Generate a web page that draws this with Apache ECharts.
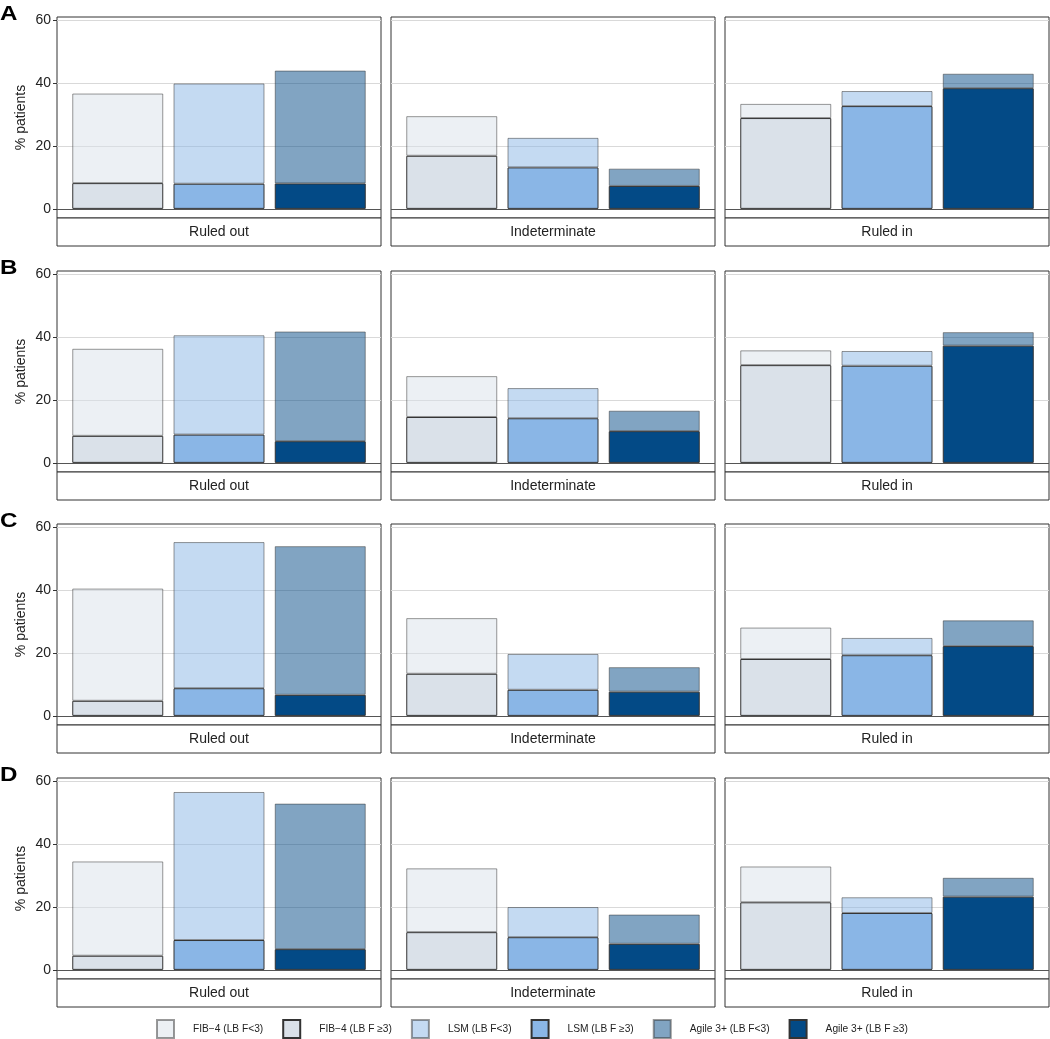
<!DOCTYPE html>
<html>
<head>
<meta charset="utf-8">
<script src="https://cdn.jsdelivr.net/npm/echarts@6/dist/echarts.min.js"></script>
<style>
html,body{margin:0;padding:0;background:#fff;}
#chart{width:1050px;height:1039px;}
</style>
</head>
<body>
<div id="chart"></div>
<script>
// ---- DATA ----
const rowLabels = ['A', 'B', 'C', 'D'];
const categories = ['Ruled out', 'Indeterminate', 'Ruled in'];
const methods = ['FIB\u22124', 'LSM', 'Agile 3+'];
const yTicks = [0, 20, 40, 60];

// values[category][method], % patients with LB F>=3 (lower segment)
const f3_A = [[8.2, 8.0, 8.1], [16.9, 13.2, 7.3], [28.9, 32.7, 38.4]];
const f3_B = [[8.6, 9.0, 6.9], [14.6, 14.2, 10.1], [31.1, 30.9, 37.3]];
const f3_C = [[4.8, 8.8, 6.7], [13.4, 8.3, 7.7], [18.1, 19.3, 22.2]];
const f3_D = [[4.5, 9.5, 6.6], [12.0, 10.4, 8.3], [21.5, 18.1, 23.3]];
// values[category][method], % patients with LB F<3 (upper segment)
const lt3_A = [[28.5, 31.9, 35.9], [12.6, 9.4, 5.5], [4.5, 4.8, 4.6]];
const lt3_B = [[27.7, 31.6, 34.9], [13.0, 9.6, 6.5], [4.7, 4.7, 4.3]];
const lt3_C = [[35.7, 46.5, 47.3], [17.7, 11.4, 7.8], [10.0, 5.5, 8.2]];
const lt3_D = [[30.0, 47.1, 46.3], [20.3, 9.6, 9.3], [11.4, 5.0, 6.0]];

const f3Rows = [f3_A, f3_B, f3_C, f3_D];
const lt3Rows = [lt3_A, lt3_B, lt3_C, lt3_D];

// ---- STYLE / LAYOUT ----
const baseColors = ['#dae1e9', '#8ab6e6', '#034a86'];
const fadedColors = ['rgba(218,225,233,0.5)', 'rgba(138,182,230,0.5)', 'rgba(3,74,134,0.5)'];
const FONT = 'Liberation Sans, Arial, Helvetica, sans-serif';
const colLeft = [57, 391, 725];
const panelW = 324;
const plotH = 201;
const stripH = 28;
const rowTop = r => Math.round(17 + r * 253.7);

const grids = [], xAxes = [], yAxes = [], series = [], graphics = [];

rowLabels.forEach((lab, r) => {
  const top = rowTop(r);
  graphics.push({
    type: 'text', x: 0, y: top - 13, scaleX: 1.15,
    style: { text: lab, font: 'bold 21px ' + FONT, fill: '#000', verticalAlign: 'top' }
  });
  categories.forEach((cat, c) => {
    const gi = r * 3 + c;
    grids.push({
      left: colLeft[c], top: top, width: panelW, height: plotH,
      show: true, borderColor: '#333', borderWidth: 1, backgroundColor: '#fff'
    });
    xAxes.push({
      gridIndex: gi, type: 'value', min: 0.4, max: 3.6, show: false
    });
    yAxes.push({
      gridIndex: gi, type: 'value', min: -2.9, max: 61.05,
      axisLine: { show: false },
      axisTick: { show: c === 0, length: 4, lineStyle: { color: '#333' }, customValues: yTicks },
      axisLabel: { show: c === 0, customValues: yTicks, fontSize: 14, color: '#222', fontFamily: FONT, margin: 6 },
      splitLine: { show: true, lineStyle: { color: ['#555', '#d9d9d9', '#d9d9d9', '#d9d9d9'], width: 1 } },
      name: c === 0 ? '% patients' : '',
      nameLocation: 'middle', nameGap: 29, nameRotate: 90,
      nameTextStyle: { fontSize: 14, color: '#222', fontFamily: FONT }
    });
    graphics.push({
      type: 'rect',
      shape: { x: colLeft[c], y: top + plotH, width: panelW, height: stripH },
      style: { fill: '#fff', stroke: '#333', lineWidth: 1 }
    });
    graphics.push({
      type: 'text',
      x: colLeft[c] + panelW / 2, y: top + plotH + stripH / 2,
      style: { text: cat, font: '14px ' + FONT, fill: '#222', align: 'center', verticalAlign: 'middle' }
    });
    methods.forEach((m, k) => {
      const stack = 'g' + gi + 'm' + k;
      // data items are [value, position] so that the value dimension is the stacked one
      series.push({
        type: 'bar', name: m + ' (LB F \u22653)',
        xAxisIndex: gi, yAxisIndex: gi, stack: stack,
        dimensions: ['pct', 'pos'], encode: { x: 'pos', y: 'pct' },
        data: [[f3Rows[r][c][k], k + 1]],
        barWidth: 91, barGap: '-100%', z: 3,
        itemStyle: { color: baseColors[k], borderColor: '#333', borderWidth: 1 },
        emphasis: { disabled: true }
      });
      series.push({
        type: 'bar', name: m + ' (LB F<3)',
        xAxisIndex: gi, yAxisIndex: gi, stack: stack,
        dimensions: ['pct', 'pos'], encode: { x: 'pos', y: 'pct' },
        data: [[lt3Rows[r][c][k], k + 1]],
        barWidth: 91, barGap: '-100%', z: 2,
        itemStyle: { color: fadedColors[k], borderColor: 'rgba(51,51,51,0.5)', borderWidth: 1 },
        emphasis: { disabled: true }
      });
    });
  });
});

const legendNames = [];
methods.forEach(m => { legendNames.push(m + ' (LB F<3)'); legendNames.push(m + ' (LB F \u22653)'); });

const chart = echarts.init(document.getElementById('chart'), null, { renderer: 'canvas' });
chart.setOption({
  animation: false,
  backgroundColor: '#fff',
  textStyle: { fontFamily: FONT },
  grid: grids,
  xAxis: xAxes,
  yAxis: yAxes,
  series: series,
  graphic: graphics,
  legend: {
    data: legendNames, left: 156, top: 1019, padding: 0,
    itemWidth: 17, itemHeight: 18, itemGap: 19, icon: 'rect',
    selectedMode: false,
    textStyle: { fontSize: 10.2, color: '#222', fontFamily: FONT, padding: [0, 0, 0, 14] }
  }
});
</script>
</body>
</html>
